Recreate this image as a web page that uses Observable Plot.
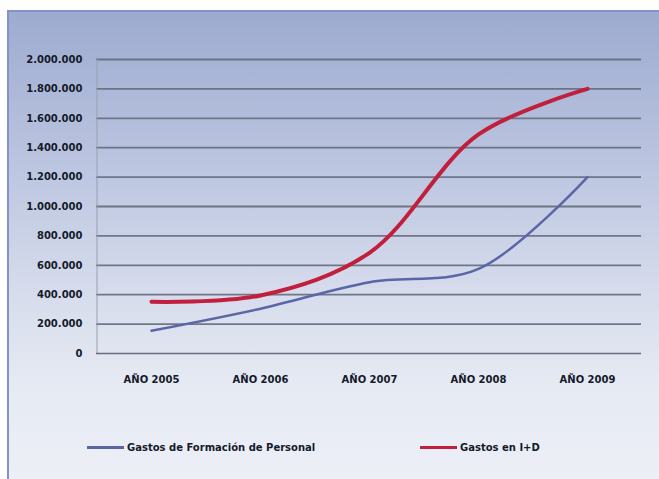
<!DOCTYPE html>
<html>
<head>
<meta charset="utf-8">
<script src="https://cdn.jsdelivr.net/npm/d3@7"></script>
<script src="https://cdn.jsdelivr.net/npm/@observablehq/plot@0.6"></script>
<style>
  html, body { margin: 0; padding: 0; background: #ffffff; }
  #frame {
    position: absolute; left: 7px; top: 10px; width: 652px; height: 469px;
    box-sizing: border-box;
    border-top: 2px solid #8591c9; border-left: 2px solid #8591c9;
    background: linear-gradient(to bottom, #9dabd0 0%, #b9c3df 30%, #d6dcec 60%, #e6eaf3 80%, #eceff6 100%);
    font-family: "DejaVu Sans", sans-serif;
    overflow: hidden;
  }
  #chart { position: absolute; left: -2px; top: -2px; }
  .legend { position: absolute; top: 430px; font: bold 10px "DejaVu Sans", sans-serif; color: #141a2a; display: flex; align-items: center; white-space: nowrap; }
  .legend .sw { display: inline-block; width: 37px; margin-right: 3px; }
</style>
</head>
<body>
<div id="frame">
  <div id="chart"></div>
  <div class="legend" style="left:78px"><span class="sw" style="border-top:3px solid #5b66a6"></span>Gastos de Formación de Personal</div>
  <div class="legend" style="left:411px"><span class="sw" style="border-top:3px solid #c21f3c"></span>Gastos en I+D</div>
</div>
<script>
const years = ["AÑO 2005", "AÑO 2006", "AÑO 2007", "AÑO 2008", "AÑO 2009"];
const formacion = [155000, 305000, 485000, 575000, 1200000];
const imasd = [352000, 395000, 685000, 1490000, 1800000];
const yTicks = [0, 200000, 400000, 600000, 800000, 1000000, 1200000, 1400000, 1600000, 1800000, 2000000];

const fmt = d3.formatLocale({decimal: ",", thousands: ".", grouping: [3], currency: ["", ""]}).format(",d");

const rows = [
  ...years.map((y, i) => ({year: y, value: formacion[i], serie: "Gastos de Formación de Personal"})),
  ...years.map((y, i) => ({year: y, value: imasd[i], serie: "Gastos en I+D"}))
];

const chart = Plot.plot({
  width: 652,
  height: 400,
  marginLeft: 89,
  marginRight: 18,
  marginTop: 49,
  marginBottom: 57,
  style: {background: "transparent", fontFamily: "DejaVu Sans, sans-serif", fontSize: "10px", fontWeight: "bold", color: "#141a2a"},
  x: {type: "point", domain: years, padding: 0.5, label: null, tickSize: 0, tickPadding: 22},
  y: {domain: [0, 2000000], ticks: yTicks, tickFormat: fmt, label: null, tickSize: 0, tickPadding: 14},
  marks: [
    Plot.ruleY(yTicks.filter(d => d > 0), {stroke: "#656c7e", strokeWidth: 1.8, strokeOpacity: 0.9}),
    Plot.ruleX([years[0]], {stroke: "#9aa0b0", strokeWidth: 1, dx: -54.5}),
    Plot.ruleY([0], {stroke: "#656c7e", strokeWidth: 1.5}),
    Plot.lineY(rows.filter(d => d.serie === "Gastos de Formación de Personal"), {x: "year", y: "value", stroke: "#5b66a6", strokeWidth: 2.5, curve: "catmull-rom"}),
    Plot.lineY(rows.filter(d => d.serie === "Gastos en I+D"), {x: "year", y: "value", stroke: "#c21f3c", strokeWidth: 4, curve: "catmull-rom"})
  ]
});
document.getElementById("chart").appendChild(chart);
</script>
</body>
</html>
